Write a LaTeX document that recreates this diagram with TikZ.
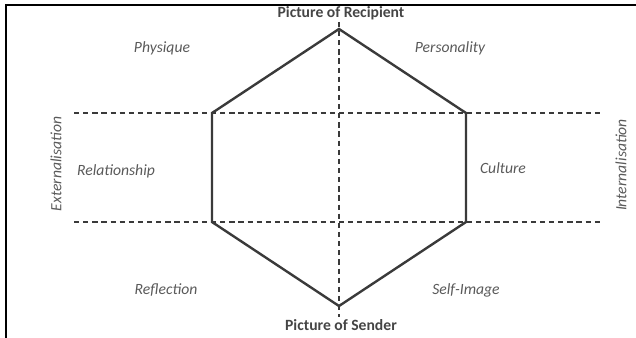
\documentclass[tikz,border=0pt]{standalone}
\usepackage{fontspec}
\setmainfont{Carlito}
\usetikzlibrary{calc}
\definecolor{linegray}{HTML}{3A3A3A}
\definecolor{textgray}{HTML}{5A5A5A}
\definecolor{polegray}{HTML}{454545}

\begin{document}
\begin{tikzpicture}[x=0.02cm,y=-0.02cm]
\path [use as bounding box] (0,0) rectangle (636,338);
\tikzstyle{edge} = [draw=linegray, line width=2.4pt*0.567]
\tikzstyle{axis} = [draw=linegray, line width=1.3pt*0.567, dash pattern=on 3pt off 2.2pt]
\tikzstyle{pole} = [text=polegray, font=\fontsize{8.9}{10}\selectfont\bfseries, inner sep=1pt]
\tikzstyle{facet} = [text=textgray, font=\fontsize{8.9}{10}\selectfont\itshape, inner sep=1pt]
% frame
\draw[black, line width=1.2pt] (6,338) -- (6,5) -- (636,5);
% hexagon corners
\coordinate (T) at (339,29);
\coordinate (UL) at (212,113);
\coordinate (UR) at (466,113);
\coordinate (LL) at (212,222);
\coordinate (LR) at (466,222);
\coordinate (B) at (339,306);
% axes
\coordinate (AL1) at (74,113);
\coordinate (AR1) at (603,113);
\coordinate (AL2) at (74,222);
\coordinate (AR2) at (603,222);
\node[pole] (recipient) at (341,13) {Picture of Recipient};
\node[pole] (sender) at (341,325) {Picture of Sender};
\draw[axis] (AL1) -- (AR1);
\draw[axis] (AL2) -- (AR2);
\draw[axis] (recipient.south -| T) -- (sender.north -| B);
\draw[edge] (T) -- (UR) -- (LR) -- (B) -- (LL) -- (UL) -- cycle;
% facets
\node[facet] (physique) at (162,48) {Physique};
\node[facet] (personality) at (450,48) {Personality};
\node[facet] (relationship) at (116,171) {Relationship};
\node[facet] (culture) at (503,168) {Culture};
\node[facet] (reflection) at (166,290) {Reflection};
\node[facet] (selfimage) at (466,290) {Self-Image};
\node[facet, rotate=90] (ext) at (56,164) {Externalisation};
\node[facet, rotate=90] (int) at (621,165) {Internalisation};
\end{tikzpicture}
\end{document}
